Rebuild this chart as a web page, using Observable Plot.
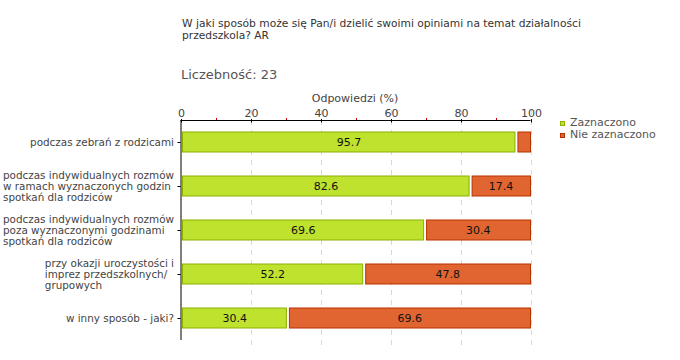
<!DOCTYPE html>
<html><head><meta charset="utf-8">
<script src="https://cdn.jsdelivr.net/npm/d3@7"></script>
<script src="https://cdn.jsdelivr.net/npm/@observablehq/plot@0.6"></script>
<style>
body{margin:0;background:#fff;font-family:"DejaVu Sans",Verdana,sans-serif;}
#wrap{position:relative;width:680px;height:360px;}
.t{position:absolute;white-space:nowrap;}
</style></head>
<body><div id="wrap"></div>
<script>
const categories = [
  "podczas zebrań z rodzicami",
  "podczas indywidualnych rozmów\nw ramach wyznaczonych godzin\nspotkań dla rodziców",
  "podczas indywidualnych rozmów\npoza wyznaczonymi godzinami\nspotkań dla rodziców",
  "przy okazji uroczystości i\nimprez przedszkolnych/\ngrupowych",
  "w inny sposób - jaki?"
];
const zaznaczono = [95.7, 82.6, 69.6, 52.2, 30.4];
const nieZaznaczono = [4.3, 17.4, 30.4, 47.8, 69.6];
const seriesNames = ["Zaznaczono", "Nie zaznaczono"];
const majorTicks = [0, 20, 40, 60, 80, 100];
const minorTicks = [10, 30, 50, 70, 90];
const title = "W jaki sposób może się Pan/i dzielić swoimi opiniami na temat działalności\nprzedszkola? AR";
const countLabel = "Liczebność: 23";
const axisTitle = "Odpowiedzi (%)";

const greenFill = "#bee22e", greenStroke = "#8cb000";
const redFill = "#e06530", redStroke = "#b83200";

const rows = [];
categories.forEach((c, i) => {
  rows.push({cat: c, s: seriesNames[0], x1: 0, x2: zaznaczono[i], v: zaznaczono[i]});
  rows.push({cat: c, s: seriesNames[1], x1: zaznaczono[i], x2: zaznaczono[i] + nieZaznaczono[i], v: nieZaznaczono[i]});
});
const greens = rows.filter(d => d.s === seriesNames[0]);
const reds = rows.filter(d => d.s === seriesNames[1]);

const chart = Plot.plot({
  width: 680, height: 360,
  marginLeft: 181, marginRight: 149, marginTop: 120, marginBottom: 20,
  style: {fontFamily: "DejaVu Sans, Verdana, sans-serif", fontSize: "10.5px", color: "#444", background: "white"},
  x: {domain: [0, 100], axis: null},
  y: {domain: categories, axis: null, paddingInner: 0.545, paddingOuter: 0.2725},
  marks: [
    Plot.ruleX(majorTicks.slice(1), {y1: () => categories[0], y2: () => categories[categories.length - 1], insetTop: -22, insetBottom: -22, stroke: "#d8d8d8", strokeDasharray: "5,5", strokeWidth: 1}),
    Plot.barX(greens, {x1: "x1", x2: "x2", y: "cat", fill: greenFill, stroke: greenStroke, strokeWidth: 1, insetLeft: 1.5, insetRight: 1}),
    Plot.barX(reds, {x1: "x1", x2: "x2", y: "cat", fill: redFill, stroke: redStroke, strokeWidth: 1, insetLeft: 2, insetRight: 0.5}),
    Plot.text(rows.filter(d => d.v >= 10), {x: d => (d.x1 + d.x2) / 2, y: "cat", text: d => d.v.toFixed(1), fill: "#111", fontSize: 11}),
    Plot.axisX(minorTicks, {anchor: "top", tickSize: 3, stroke: "#d00000", tickFormat: () => "", label: null}),
    Plot.axisX(majorTicks, {anchor: "top", tickSize: 3.5, tickPadding: 2, tickFormat: d => d, fontSize: 11, fill: "#444", stroke: "#000", label: null, dy: 1.5}),
    Plot.ruleY([categories[0]], {x1: 0, x2: 100, dy: -22, stroke: "#000", dx: -0.5}),
    Plot.ruleX([0], {stroke: "#000", dx: -0.5}),
    Plot.axisY(categories, {anchor: "left", tickSize: 3, tickPadding: 4, fontSize: 10.4, fill: "#444", stroke: "#000", label: null, lineHeight: 1.05, lineAnchor: "middle", dx: -0.5})
  ]
});
const wrap = document.getElementById("wrap");
wrap.appendChild(chart);

// left-align multi-line category blocks (like the original)
chart.querySelectorAll("text").forEach(t => {
  const spans = t.querySelectorAll("tspan");
  if (spans.length > 1) {
    let w = 0; spans.forEach(s => w = Math.max(w, s.getComputedTextLength()));
    t.setAttribute("text-anchor", "start");
    t.style.textAnchor = "start";
    spans.forEach(s => { s.setAttribute("text-anchor", "start"); s.setAttribute("dx", -w); });
  }
});

function addText(txt, left, top, size, color, extra) {
  const d = document.createElement("div");
  d.className = "t"; d.textContent = txt;
  Object.assign(d.style, {left: left + "px", top: top + "px", fontSize: size + "px", color: color, lineHeight: "12px"}, extra || {});
  wrap.appendChild(d);
  return d;
}
addText(title, 182, 18, 10.7, "#333", {whiteSpace: "pre"});
addText(countLabel, 181, 67, 13, "#555", {lineHeight: "16px"});
addText(axisTitle, 355, 93, 11, "#444", {transform: "translateX(-50%)"});
[[seriesNames[0], greenFill, greenStroke], [seriesNames[1], redFill, redStroke]].forEach(([n, f, s], i) => {
  const sw = document.createElement("div");
  Object.assign(sw.style, {position: "absolute", left: "560px", top: (121 + i * 12) + "px", width: "5px", height: "5px", background: f, outline: "1px solid " + s, outlineOffset: "-1px"});
  wrap.appendChild(sw);
  addText(n, 570, 117 + i * 12, 11, "#555");
});
</script></body></html>
